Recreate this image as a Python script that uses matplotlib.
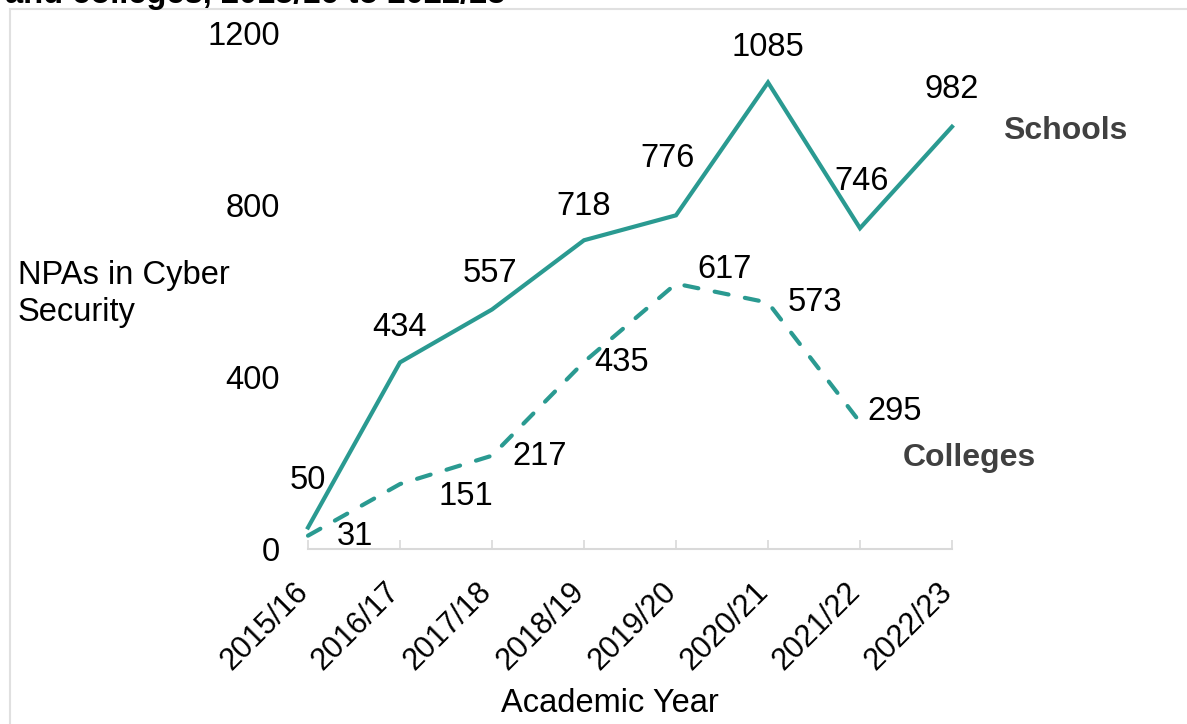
import matplotlib
matplotlib.use("Agg")
import matplotlib.pyplot as plt
import matplotlib.transforms as mtransforms
from matplotlib.patches import Rectangle

plt.rcParams["font.family"] = ["Liberation Sans", "DejaVu Sans"]

years = ["2015/16", "2016/17", "2017/18", "2018/19",
         "2019/20", "2020/21", "2021/22", "2022/23"]
schools = [50, 434, 557, 718, 776, 1085, 746, 982]
colleges = [31, 151, 217, 435, 617, 573, 295]

# label offsets from each point, in pixels
school_offsets = [(0, 47), (0, 35), (-2, 36), (0, 34),
                  (-8, 57), (0, 35), (2, 47), (0, 37)]
college_offsets = [(47, -1), (66, -12), (48, -1), (38, -1),
                   (49, 14), (47, 0), (35, 11)]

TEAL = "#2A9A91"
GREY_TEXT = "#404040"
FS = 23.5

W, H = 1187, 724
fig = plt.figure(figsize=(W / 100, H / 100), dpi=100)
ax = fig.add_axes([308 / W, (H - 549) / H, 644 / W, 516 / H])

x = list(range(len(years)))
ax.plot(x, schools, color=TEAL, lw=3.0, clip_on=False,
        solid_joinstyle="miter")
ax.plot(x[:len(colleges)], colleges, color=TEAL, lw=3.0, clip_on=False,
        dashes=(3.4, 4.0), dash_capstyle="round")

for xi, v, (dx, dy) in zip(x, schools, school_offsets):
    ax.annotate(str(v), (xi, v), xytext=(dx, dy), textcoords="offset pixels",
                ha="center", va="center", fontsize=FS, color="black")
for xi, v, (dx, dy) in zip(x, colleges, college_offsets):
    ax.annotate(str(v), (xi, v), xytext=(dx, dy), textcoords="offset pixels",
                ha="center", va="center", fontsize=FS, color="black")

ax.annotate("Schools", (x[-1], schools[-1]), xytext=(51, -4),
            textcoords="offset pixels", ha="left", va="center",
            fontsize=FS - 0.5, fontweight="bold", color=GREY_TEXT)
ax.annotate("Colleges", (len(colleges) - 1, colleges[-1]), xytext=(43, -36),
            textcoords="offset pixels", ha="left", va="center",
            fontsize=FS - 0.5, fontweight="bold", color=GREY_TEXT)

ax.set_xlim(0, len(years) - 1)
ax.set_ylim(0, 1200)
ax.set_yticks([0, 400, 800, 1200])
ax.set_xticks(x)
ax.set_xticklabels(years, rotation=45, ha="right", va="top", fontsize=22)

for side in ["left", "right", "top"]:
    ax.spines[side].set_visible(False)
ax.spines["bottom"].set_color("#D9D9D9")
ax.spines["bottom"].set_linewidth(1.5)
ax.tick_params(axis="y", length=0, pad=20, labelsize=FS)
ax.tick_params(axis="x", direction="in", length=6.5, width=1.2,
               color="#D9D9D9", pad=20)
ax.patch.set_visible(False)

shift = mtransforms.ScaledTranslation(6 / 100, 0, fig.dpi_scale_trans)
for lbl in ax.get_xticklabels():
    lbl.set_transform(lbl.get_transform() + shift)

fig.text(18 / W, 1 - 294 / H, "NPAs in Cyber\nSecurity", ha="left",
         va="center", fontsize=FS, linespacing=1.25)
fig.text(610 / W, 1 - 703 / H, "Academic Year", ha="center", va="center",
         fontsize=FS)
fig.text(5 / W, 1 - 3 / H, "and colleges, 2015/16 to 2022/23", ha="left",
         va="baseline", fontsize=FS, fontweight="bold")

fig.add_artist(Rectangle((10 / W, -0.1), 1.2, 1.1 - 9 / H,
                         transform=fig.transFigure, fill=False,
                         edgecolor="#E0E0E0", lw=1.5))

fig.savefig("out.png", dpi=100)
